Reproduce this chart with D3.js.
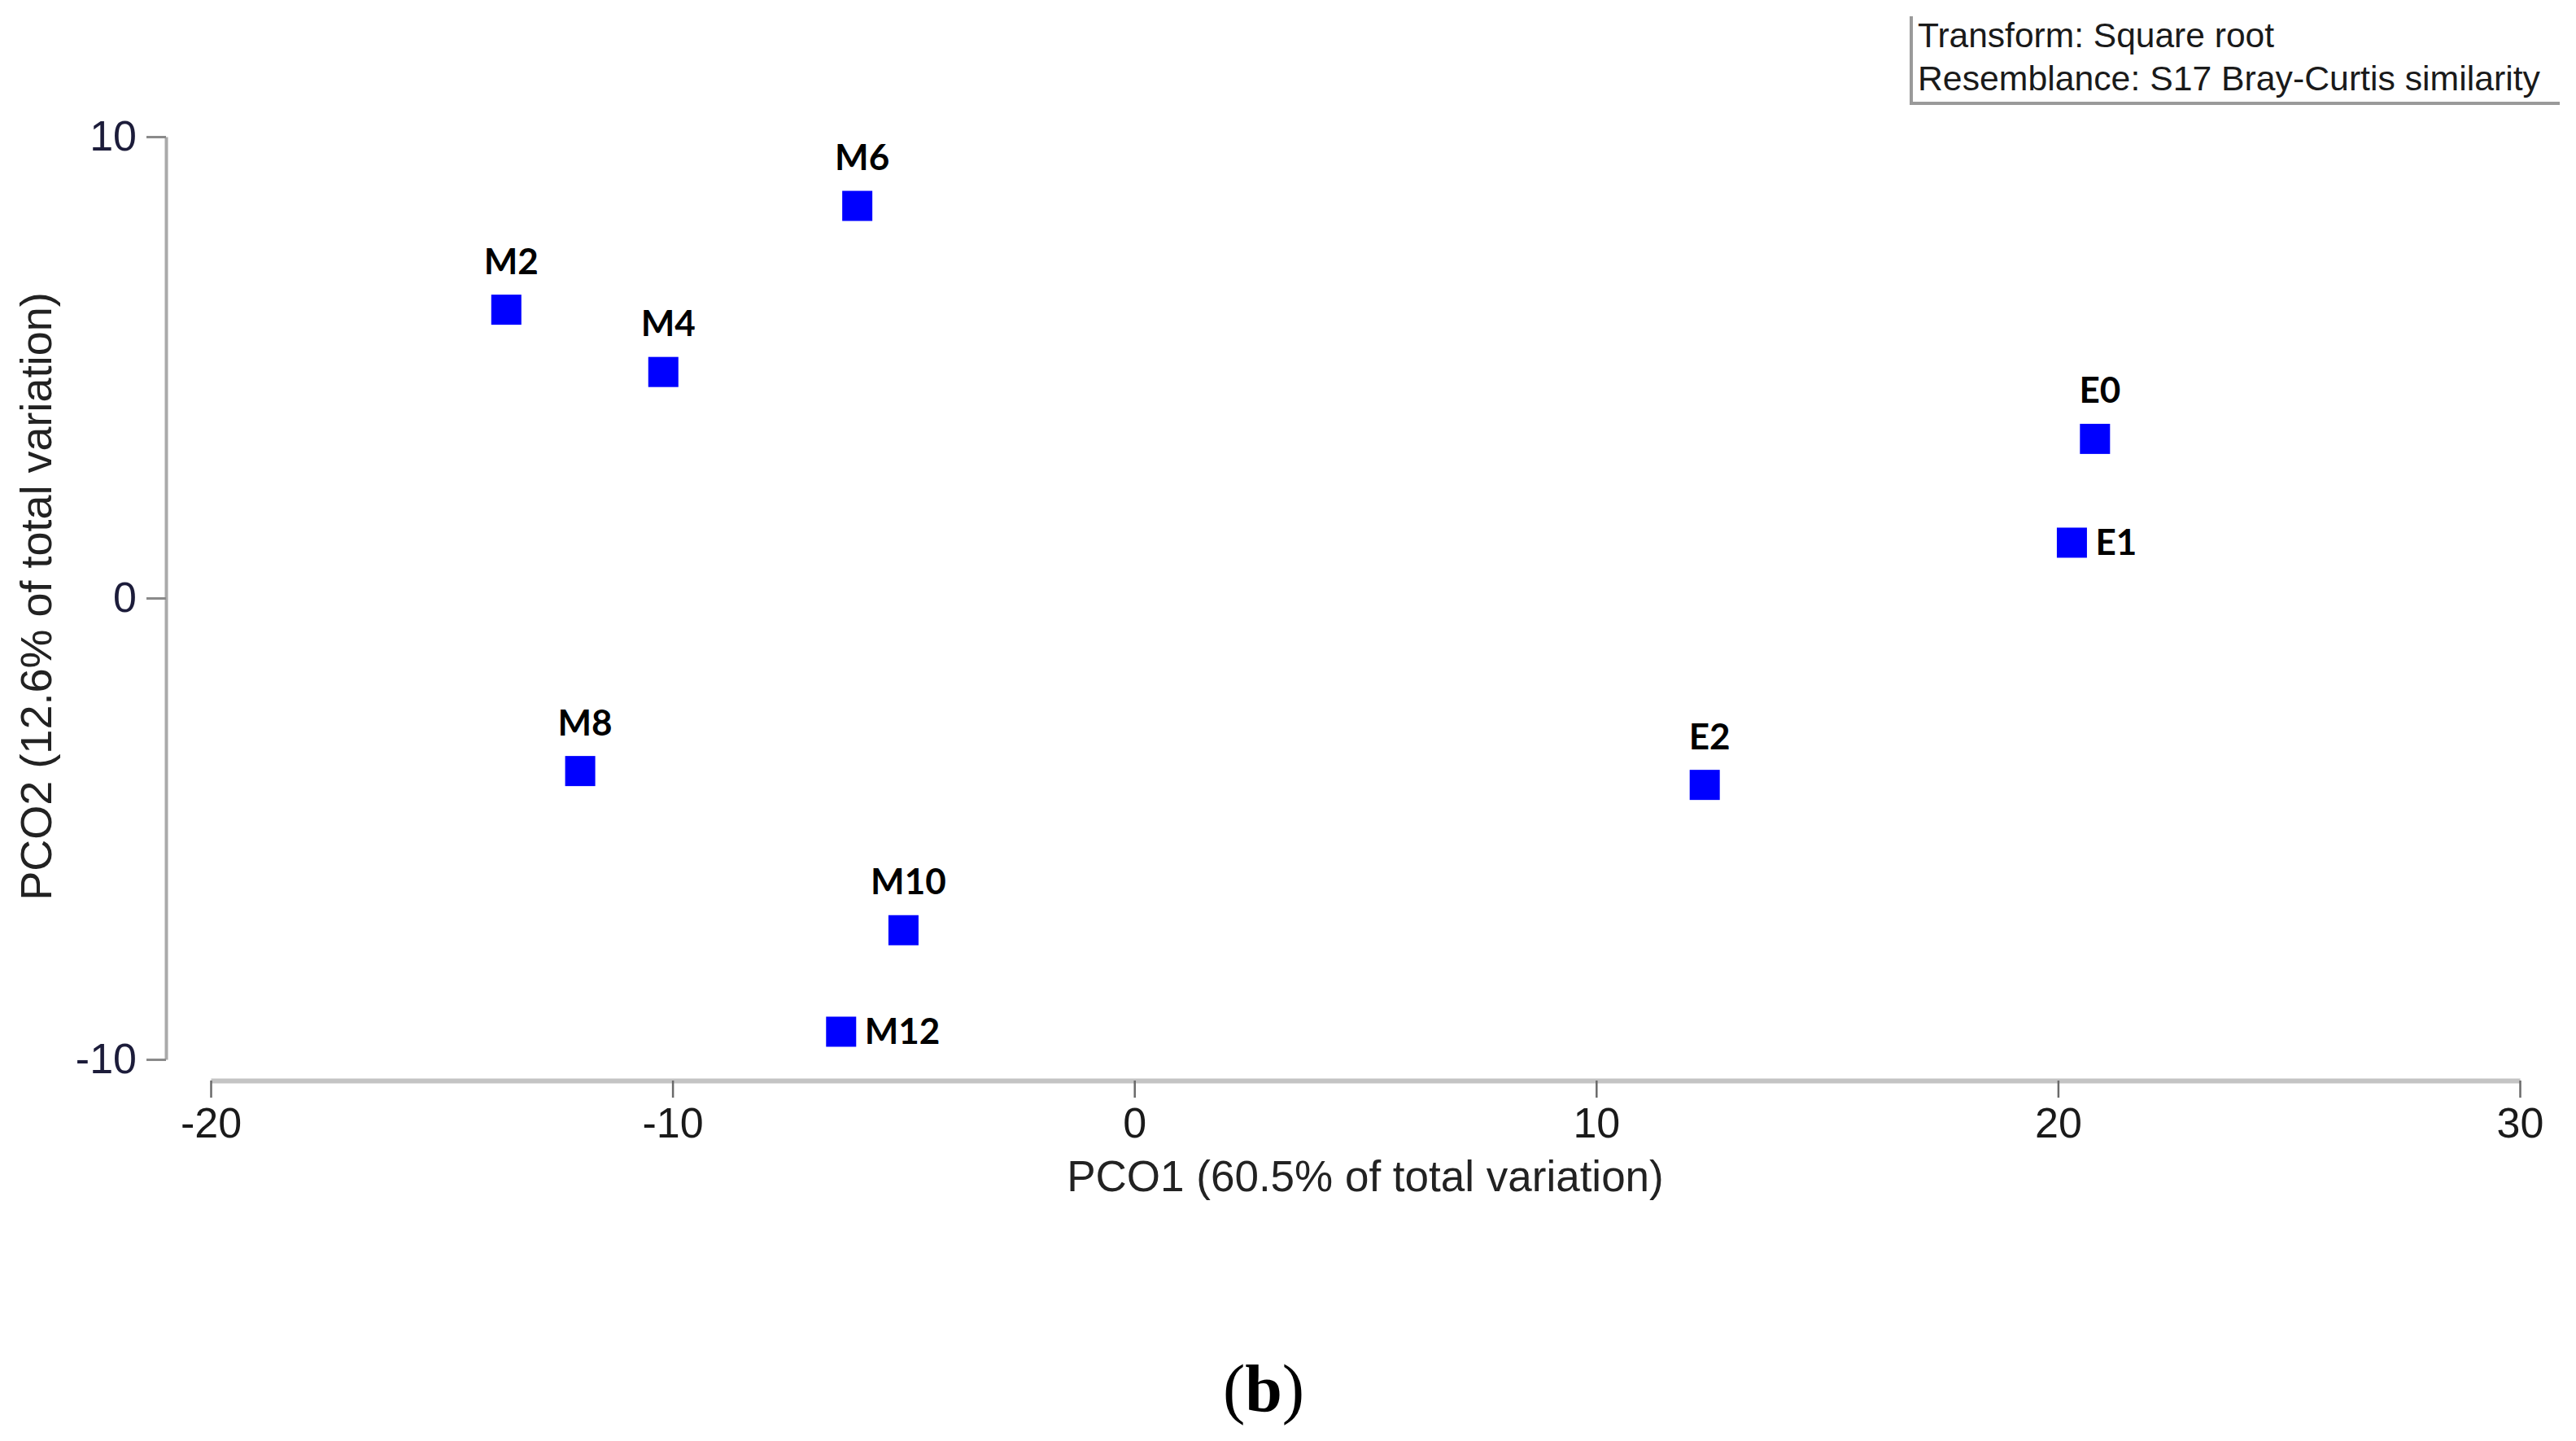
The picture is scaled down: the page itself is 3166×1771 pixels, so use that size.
<!DOCTYPE html>
<html>
<head>
<meta charset="utf-8">
<script src="https://cdn.jsdelivr.net/npm/d3@7"></script>
<style>
  html, body { margin: 0; padding: 0; background: #fff; }
  svg { display: block; }
</style>
</head>
<body>
<svg id="chart" width="3166" height="1771"></svg>
<script>
// ---- data ----
const sampleNames = ["M2", "M4", "M6", "M8", "M10", "M12", "E0", "E1", "E2"];
const pco1Values  = [-13.6, -10.2, -6.0, -12.0, -5.0, -6.35, 20.8, 20.3, 12.35];
const pco2Values  = [6.25, 4.9, 8.5, -3.75, -7.2, -9.4, 3.45, 1.2, -4.05];
const labelSide   = ["above", "above", "above", "above", "above", "right", "above", "right", "above"];
const xTickValues = [-20, -10, 0, 10, 20, 30];
const yTickValues = [-10, 0, 10];
const xTitle = "PCO1 (60.5% of total variation)";
const yTitle = "PCO2 (12.6% of total variation)";
const legendLines = ["Transform: Square root", "Resemblance: S17 Bray-Curtis similarity"];
const captionLetter = "b";

// ---- layout ----
const svg = d3.select("#chart");
const x = d3.scaleLinear().domain([-20, 30]).range([259, 3097]);
const y = d3.scaleLinear().domain([-10, 10]).range([1302, 168]);
const xAxisY = 1328;
const yAxisX = 204;
const sq = 37;
const plainNum = d => String(d);

const points = sampleNames.map((n, i) => ({ name: n, px: pco1Values[i], py: pco2Values[i], side: labelSide[i] }));

// x axis
const gx = svg.append("g")
  .attr("transform", `translate(0,${xAxisY})`)
  .call(d3.axisBottom(x).tickValues(xTickValues).tickSize(21).tickSizeOuter(0).tickPadding(12).tickFormat(plainNum));
gx.select(".domain").attr("stroke", "#c4c4c4").attr("stroke-width", 6);
gx.selectAll(".tick line").attr("stroke", "#6a6a6a").attr("stroke-width", 2.5);
gx.selectAll(".tick text")
  .attr("font-family", "'Liberation Sans', Arial, sans-serif")
  .attr("font-size", 52).attr("fill", "#1a1a1a");

// y axis
const gy = svg.append("g")
  .attr("transform", `translate(${yAxisX},0)`)
  .call(d3.axisLeft(y).tickValues(yTickValues).tickSize(24).tickSizeOuter(0).tickPadding(12).tickFormat(plainNum));
gy.select(".domain").attr("stroke", "#aaaaaa").attr("stroke-width", 4);
gy.selectAll(".tick line").attr("stroke", "#8a8a8a").attr("stroke-width", 3);
gy.selectAll(".tick text")
  .attr("font-family", "'Liberation Sans', Arial, sans-serif")
  .attr("font-size", 52).attr("fill", "#1c1c3a");

// axis titles
svg.append("text")
  .attr("x", 1678).attr("y", 1464)
  .attr("text-anchor", "middle")
  .attr("font-family", "'Liberation Sans', Arial, sans-serif")
  .attr("font-size", 53).attr("fill", "#222")
  .text(xTitle);

svg.append("text")
  .attr("transform", "translate(63,733) rotate(-90)")
  .attr("text-anchor", "middle")
  .attr("font-family", "'Liberation Sans', Arial, sans-serif")
  .attr("font-size", 54).attr("fill", "#222")
  .text(yTitle);

// points
svg.append("g").selectAll("rect")
  .data(points).join("rect")
  .attr("x", d => x(d.px) - sq / 2)
  .attr("y", d => y(d.py) - sq / 2)
  .attr("width", sq).attr("height", sq)
  .attr("fill", "#0000ff");

// labels
svg.append("g").selectAll("text")
  .data(points).join("text")
  .attr("x", d => d.side === "right" ? x(d.px) + 29 : x(d.px) + 6)
  .attr("y", d => d.side === "right" ? y(d.py) + 15 : y(d.py) - 44)
  .attr("text-anchor", d => d.side === "right" ? "start" : "middle")
  .attr("font-family", "Lato, 'Open Sans', sans-serif")
  .attr("font-weight", "bold")
  .attr("font-size", 44).attr("fill", "#000")
  .text(d => d.name);

// legend box (left + bottom border)
const lg = svg.append("g");
lg.append("path")
  .attr("d", "M2349,20 V127 H3146")
  .attr("fill", "none").attr("stroke", "#9a9a9a").attr("stroke-width", 4);
const legendWidths = [438, 765];
lg.selectAll("text")
  .data(legendLines).join("text")
  .attr("x", 2357)
  .attr("y", (d, i) => 58 + i * 53)
  .attr("font-family", "'Liberation Sans', Arial, sans-serif")
  .attr("font-size", 42).attr("fill", "#1a1a1a")
  .attr("textLength", (d, i) => legendWidths[i])
  .attr("lengthAdjust", "spacingAndGlyphs")
  .text(d => d);

// caption
const cap = svg.append("text")
  .attr("x", 1553).attr("y", 1734)
  .attr("text-anchor", "middle")
  .attr("font-family", "'Liberation Serif', 'Times New Roman', serif")
  .attr("font-size", 82).attr("fill", "#000");
cap.append("tspan").text("(");
cap.append("tspan").attr("font-weight", "bold").text(captionLetter);
cap.append("tspan").text(")");
</script>
</body>
</html>
